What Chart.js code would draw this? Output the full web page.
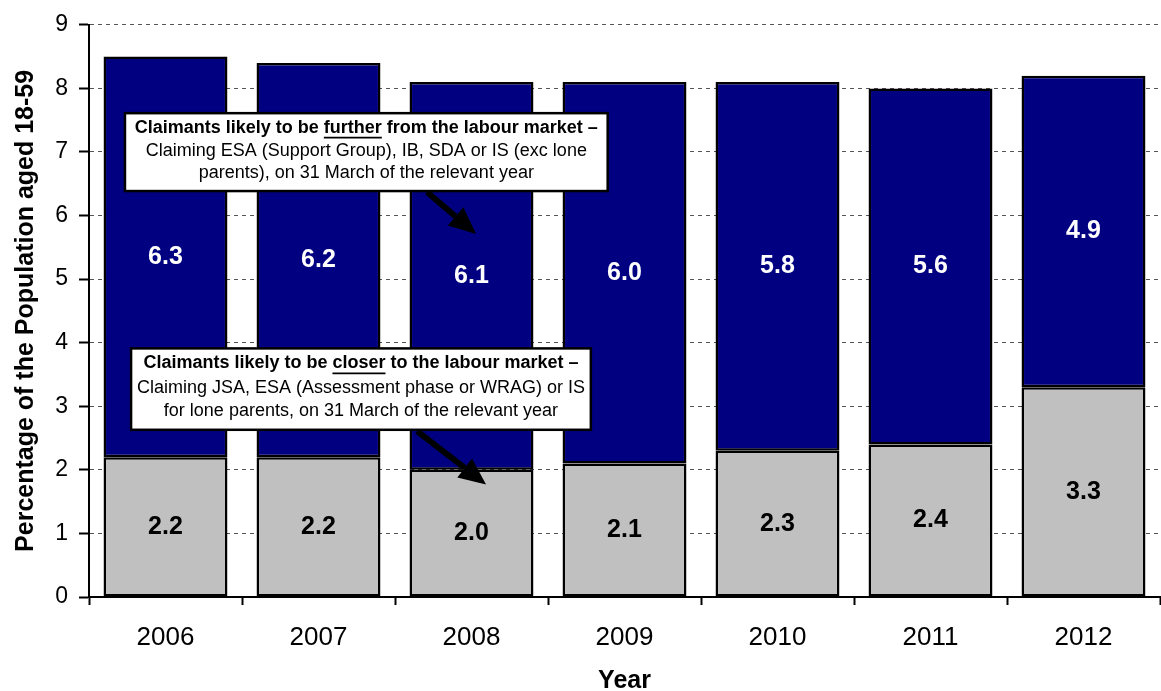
<!DOCTYPE html>
<html lang="en">
<head>
    <meta charset="UTF-8">
    <title>Claimants by distance from the labour market</title>
    <script src="https://cdn.jsdelivr.net/npm/chart.js"></script>
    <style>
        html, body { margin: 0; padding: 0; background: #fff; }
        #wrap { width: 1161px; height: 691px; position: relative; }
    </style>
</head>
<body>
    <div id="wrap">
        <canvas id="myChart"></canvas>
    </div>
<script>
    // Years and the two claimant groups (% of population aged 18-59)
    var years = ["2006", "2007", "2008", "2009", "2010", "2011", "2012"];
    var closerValues = [2.2, 2.2, 2.0, 2.1, 2.3, 2.4, 3.3];
    var furtherValues = [6.3, 6.2, 6.1, 6.0, 5.8, 5.6, 4.9];
    var yTicks = [0, 1, 2, 3, 4, 5, 6, 7, 8, 9];

    var FONT = "Arial, 'Liberation Sans', sans-serif";

    // Callout boxes, placed in axis units (x = category index, y = percent)
    var callouts = [
      {
        box: { x1: -0.265, x2: 2.89, y1: 7.61, y2: 6.385 },
        arrow: { x1: 1.709, y1: 6.37, x2: 2.03, y2: 5.71 },
        head: ["Claimants likely to be ", "further", " from the labour market \u2013"],
        lines: ["Claiming ESA (Support Group), IB, SDA or IS (exc lone",
                "parents), on 31 March of the relevant year"]
      },
      {
        box: { x1: -0.225, x2: 2.78, y1: 3.91, y2: 2.63 },
        arrow: { x1: 1.644, y1: 2.61, x2: 2.095, y2: 1.77 },
        head: ["Claimants likely to be ", "closer", " to the labour market \u2013"],
        lines: ["Claiming JSA, ESA (Assessment phase or WRAG) or IS",
                "for lone parents, on 31 March of the relevant year"]
      }
    ];

    // value written in the middle of every segment
    var segmentLabels = {
      id: "segmentLabels",
      afterDatasetsDraw: function (chart) {
        var ctx = chart.ctx;
        ctx.save();
        ctx.font = "bold 25px " + FONT;
        ctx.textAlign = "center";
        ctx.textBaseline = "middle";
        chart.data.datasets.forEach(function (ds, i) {
          ctx.fillStyle = i === 0 ? "#000" : "#fff";
          chart.getDatasetMeta(i).data.forEach(function (bar, j) {
            var p = bar.getProps(["x", "y", "base"], true);
            ctx.fillText(ds.data[j].toFixed(1), p.x, (p.y + p.base) / 2);
          });
        });
        ctx.restore();
      }
    };

    var calloutBoxes = {
      id: "calloutBoxes",
      afterDatasetsDraw: function (chart) {
        var ctx = chart.ctx;
        var xs = chart.scales.x, ys = chart.scales.y;
        ctx.save();
        callouts.forEach(function (c) {
          // arrow
          var ax1 = xs.getPixelForValue(c.arrow.x1), ay1 = ys.getPixelForValue(c.arrow.y1);
          var ax2 = xs.getPixelForValue(c.arrow.x2), ay2 = ys.getPixelForValue(c.arrow.y2);
          var ang = Math.atan2(ay2 - ay1, ax2 - ax1);
          var hl = 27, hw = 12;
          var bx = ax2 - hl * Math.cos(ang), by = ay2 - hl * Math.sin(ang);
          ctx.strokeStyle = "#000";
          ctx.lineWidth = 6;
          ctx.beginPath();
          ctx.moveTo(ax1, ay1);
          ctx.lineTo(bx, by);
          ctx.stroke();
          ctx.fillStyle = "#000";
          ctx.beginPath();
          ctx.moveTo(ax2, ay2);
          ctx.lineTo(bx + hw * Math.sin(ang), by - hw * Math.cos(ang));
          ctx.lineTo(bx - hw * Math.sin(ang), by + hw * Math.cos(ang));
          ctx.closePath();
          ctx.fill();

          // box
          var l = xs.getPixelForValue(c.box.x1), r = xs.getPixelForValue(c.box.x2);
          var t = ys.getPixelForValue(c.box.y1), b = ys.getPixelForValue(c.box.y2);
          ctx.fillStyle = "#fff";
          ctx.fillRect(l, t, r - l, b - t);
          ctx.lineWidth = 2.5;
          ctx.strokeRect(l, t, r - l, b - t);

          var cx = (l + r) / 2;
          var lineGap = (b - t) / 3.25;
          var y = t + lineGap * 0.6;

          // bold heading with one underlined word
          ctx.font = "bold 18px " + FONT;
          ctx.textBaseline = "middle";
          ctx.textAlign = "left";
          ctx.fillStyle = "#000";
          var total = c.head.reduce(function (s, part) { return s + ctx.measureText(part).width; }, 0);
          var x = cx - total / 2;
          c.head.forEach(function (part, k) {
            var w = ctx.measureText(part).width;
            ctx.fillText(part, x, y);
            if (k === 1) {
              ctx.lineWidth = 1.8;
              ctx.beginPath();
              ctx.moveTo(x, y + 10);
              ctx.lineTo(x + w, y + 10);
              ctx.stroke();
            }
            x += w;
          });

          ctx.font = "18px " + FONT;
          ctx.textAlign = "center";
          c.lines.forEach(function (line, k) {
            ctx.fillText(line, cx, y + lineGap * (k + 1) - k * 2);
          });
        });
        ctx.restore();
      }
    };

    new Chart(document.getElementById("myChart"), {
      type: "bar",
      data: {
        labels: years,
        datasets: [
          {
            label: "Closer to the labour market",
            data: closerValues,
            backgroundColor: "#c0c0c0",
            borderColor: "#000",
            borderWidth: 2.5,
            borderSkipped: false
          },
          {
            label: "Further from the labour market",
            data: furtherValues,
            backgroundColor: "#000080",
            borderColor: "#000",
            borderWidth: 2.5,
            borderSkipped: false
          }
        ]
      },
      options: {
        responsive: true,
        maintainAspectRatio: false,
        animation: false,
        categoryPercentage: 0.81,
        barPercentage: 1,
        layout: { padding: { top: 22, right: 1, left: 0, bottom: 0 } },
        plugins: {
          legend: { display: false },
          tooltip: { enabled: false }
        },
        scales: {
          x: {
            stacked: true,
            afterFit: function (s) { s.height = 94; },
            grid: {
              drawOnChartArea: false,
              drawTicks: true,
              tickLength: 8,
              tickColor: "#000",
              tickWidth: 2
            },
            border: { color: "#000", width: 2 },
            ticks: {
              color: "#000",
              padding: 17,
              font: { family: FONT, size: 26 }
            },
            title: {
              display: true,
              text: "Year",
              color: "#000",
              padding: { top: 0, bottom: 0 },
              font: { family: FONT, size: 25, weight: "bold", lineHeight: 0.8 }
            }
          },
          y: {
            stacked: true,
            min: 0,
            max: 9,
            afterFit: function (s) { s.width = 89; },
            afterBuildTicks: function (s) {
              s.ticks = yTicks.map(function (v) { return { value: v }; });
            },
            grid: {
              color: "#555",
              lineWidth: 1,
              drawTicks: true,
              tickLength: 10,
              tickColor: "#000",
              tickWidth: 2
            },
            border: { color: "#000", width: 2, dash: [4, 4] },
            ticks: {
              color: "#000",
              padding: 11,
              font: { family: FONT, size: 23 }
            },
            title: {
              display: true,
              text: "Percentage of the Population aged 18-59",
              color: "#000",
              padding: { top: 14, bottom: 0 },
              font: { family: FONT, size: 25, weight: "bold", lineHeight: 1 }
            }
          }
        }
      },
      plugins: [segmentLabels, calloutBoxes]
    });
</script>
</body>
</html>
